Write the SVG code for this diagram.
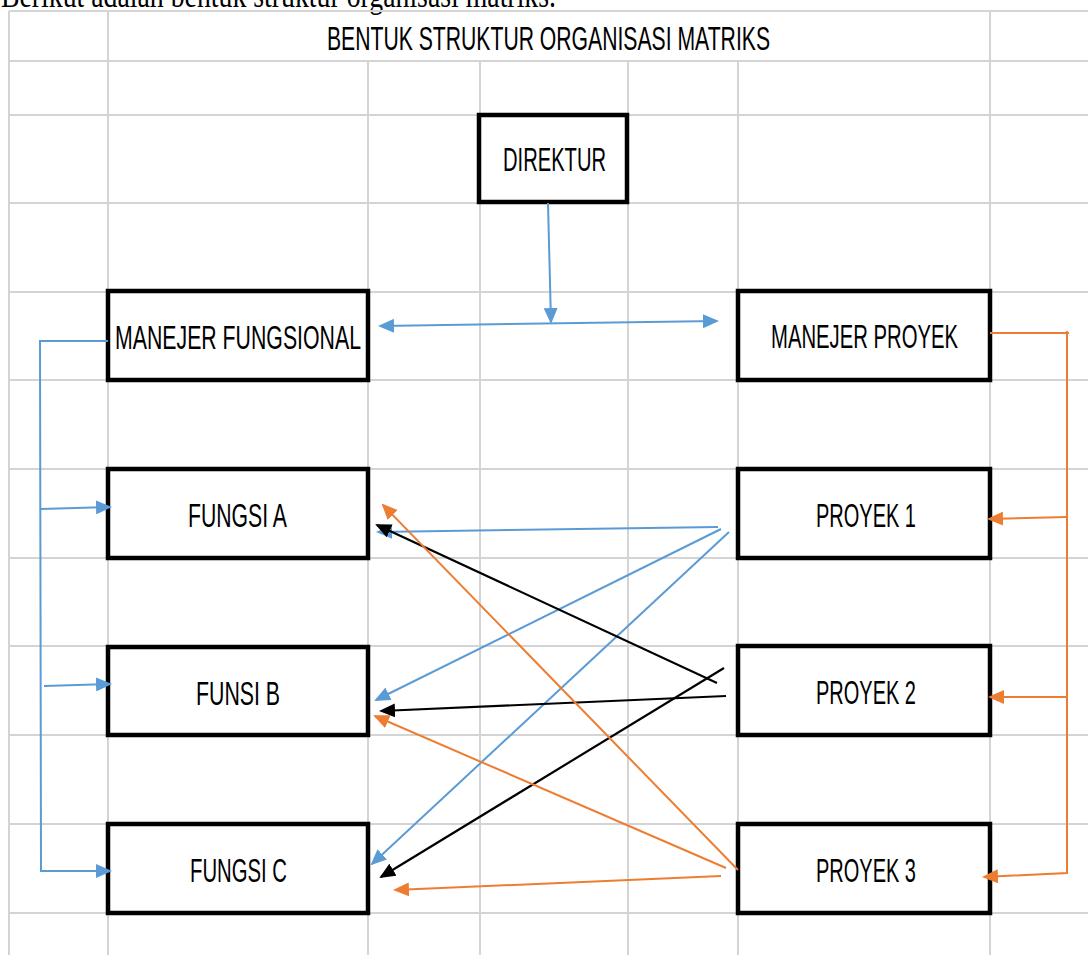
<svg xmlns="http://www.w3.org/2000/svg" width="1088" height="955" viewBox="0 0 1088 955">
<style>
.grid line{stroke:#d4d4d4;stroke-width:2}
.box{fill:#fff;stroke:#000;stroke-width:4.5}
.lbl{font-family:"Liberation Sans",Arial,sans-serif;font-size:33px;fill:#000;text-anchor:start}
.blue{stroke:#5B9BD5;stroke-width:2;fill:none}
.orange{stroke:#ED7D31;stroke-width:2;fill:none}
.black{stroke:#000;stroke-width:2.2;fill:none}
</style>
<defs>
<marker id="ab" viewBox="0 0 16 14" refX="14" refY="7" markerWidth="16" markerHeight="14" markerUnits="userSpaceOnUse" orient="auto-start-reverse"><path d="M0,0 L16,7 L0,14 z" fill="#5B9BD5"/></marker>
<marker id="ao" viewBox="0 0 16 14" refX="14" refY="7" markerWidth="16" markerHeight="14" markerUnits="userSpaceOnUse" orient="auto"><path d="M0,0 L16,7 L0,14 z" fill="#ED7D31"/></marker>
<marker id="ak" viewBox="0 0 16 14" refX="14" refY="7" markerWidth="16" markerHeight="14" markerUnits="userSpaceOnUse" orient="auto"><path d="M0,0 L16,7 L0,14 z" fill="#000"/></marker>
</defs>
<rect width="1088" height="955" fill="#fff"/>
<text x="1" y="7" font-family="'Liberation Serif','Times New Roman',serif" font-size="36" textLength="555" lengthAdjust="spacingAndGlyphs">Berikut adalah bentuk struktur organisasi matriks.</text>
<g class="grid">
<line x1="9" y1="11" x2="1088" y2="11"/>
<line x1="9" y1="61" x2="1088" y2="61"/>
<line x1="9" y1="115" x2="1088" y2="115"/>
<line x1="9" y1="203" x2="1088" y2="203"/>
<line x1="9" y1="292" x2="1088" y2="292"/>
<line x1="9" y1="380" x2="1088" y2="380"/>
<line x1="9" y1="469" x2="1088" y2="469"/>
<line x1="9" y1="558" x2="1088" y2="558"/>
<line x1="9" y1="646" x2="1088" y2="646"/>
<line x1="9" y1="735" x2="1088" y2="735"/>
<line x1="9" y1="824" x2="1088" y2="824"/>
<line x1="9" y1="913" x2="1088" y2="913"/>
<line x1="9" y1="11" x2="9" y2="955"/>
<line x1="108" y1="11" x2="108" y2="955"/>
<line x1="368" y1="61" x2="368" y2="955"/>
<line x1="480" y1="61" x2="480" y2="955"/>
<line x1="628" y1="61" x2="628" y2="955"/>
<line x1="738" y1="61" x2="738" y2="955"/>
<line x1="990" y1="11" x2="990" y2="955"/>
</g>
<text class="lbl" x="327" y="50" font-size="31" textLength="443" lengthAdjust="spacingAndGlyphs">BENTUK STRUKTUR ORGANISASI MATRIKS</text>
<g id="direktur"><rect class="box" x="479" y="115" width="148" height="87"/><text class="lbl" x="503" y="171" textLength="103" lengthAdjust="spacingAndGlyphs">DIREKTUR</text></g>
<g id="manejer-fungsional"><rect class="box" x="108" y="291" width="260" height="89"/><text class="lbl" x="115" y="349" textLength="246" lengthAdjust="spacingAndGlyphs">MANEJER FUNGSIONAL</text></g>
<g id="manejer-proyek"><rect class="box" x="738" y="291" width="252" height="89"/><text class="lbl" x="771" y="348" textLength="187" lengthAdjust="spacingAndGlyphs">MANEJER PROYEK</text></g>
<g id="fungsi-a"><rect class="box" x="108" y="469" width="260" height="89"/><text class="lbl" x="188" y="527" textLength="99" lengthAdjust="spacingAndGlyphs">FUNGSI A</text></g>
<g id="funsi-b"><rect class="box" x="108" y="647" width="260" height="88"/><text class="lbl" x="196" y="705" textLength="84" lengthAdjust="spacingAndGlyphs">FUNSI B</text></g>
<g id="fungsi-c"><rect class="box" x="108" y="824" width="260" height="89"/><text class="lbl" x="190" y="882" textLength="97" lengthAdjust="spacingAndGlyphs">FUNGSI C</text></g>
<g id="proyek-1"><rect class="box" x="738" y="469" width="252" height="89"/><text class="lbl" x="816" y="527" textLength="100" lengthAdjust="spacingAndGlyphs">PROYEK 1</text></g>
<g id="proyek-2"><rect class="box" x="738" y="646" width="252" height="89"/><text class="lbl" x="816" y="704" textLength="100" lengthAdjust="spacingAndGlyphs">PROYEK 2</text></g>
<g id="proyek-3"><rect class="box" x="738" y="824" width="252" height="89"/><text class="lbl" x="816" y="882" textLength="100" lengthAdjust="spacingAndGlyphs">PROYEK 3</text></g>
<g id="connectors">
<path class="blue" d="M548,203 L551,322" marker-end="url(#ab)"/>
<path class="blue" d="M380,326 L717,321" marker-start="url(#ab)" marker-end="url(#ab)"/>
<path class="blue" d="M108,341 L40,341 L41,871 L110,871" marker-end="url(#ab)"/>
<path class="blue" d="M41,509 L110,507" marker-end="url(#ab)"/>
<path class="blue" d="M44,686 L110,684" marker-end="url(#ab)"/>
<path class="blue" d="M718,527 L378,532" marker-end="url(#ab)"/>
<path class="blue" d="M721,529 L376,700" marker-end="url(#ab)"/>
<path class="blue" d="M729,532 L372,864" marker-end="url(#ab)"/>
<path class="black" d="M717,683 L377,525" marker-end="url(#ak)"/>
<path class="black" d="M726,696 L381,711" marker-end="url(#ak)"/>
<path class="black" d="M724,668 L381,877" marker-end="url(#ak)"/>
<path class="orange" d="M990,333 L1069,333 M1067,331 L1067,873 L984,877" marker-end="url(#ao)"/>
<path class="orange" d="M1067,517 L989,519" marker-end="url(#ao)"/>
<path class="orange" d="M1066,697 L990,697" marker-end="url(#ao)"/>
<path class="orange" d="M738,870 L383,505" marker-end="url(#ao)"/>
<path class="orange" d="M726,868 L375,716" marker-end="url(#ao)"/>
<path class="orange" d="M721,876 L395,890" marker-end="url(#ao)"/>
</g>
</svg>
